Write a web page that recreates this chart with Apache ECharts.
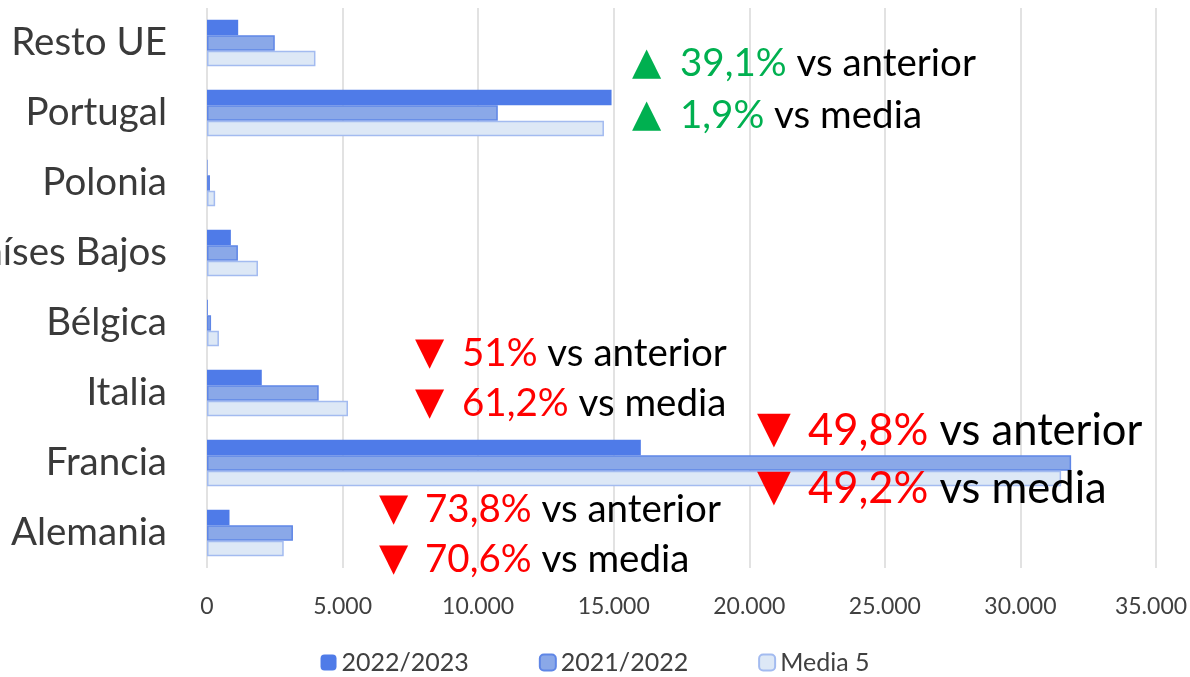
<!DOCTYPE html>
<html>
<head>
<meta charset="utf-8">
<script src="https://cdn.jsdelivr.net/npm/echarts@6/dist/echarts.min.js"></script>
<style>html,body{margin:0;padding:0;background:#fff}#c{width:1190px;height:677px}</style>
</head>
<body>
<div id="c"></div>
<script>
const categories = ['Alemania', 'Francia', 'Italia', 'Bélgica', 'Países Bajos', 'Polonia', 'Portugal', 'Resto UE'];
const s2022_2023 = [830, 16000, 2020, 30, 880, 20, 14920, 1150];
const s2021_2022 = [3170, 31870, 4120, 150, 1140, 110, 10725, 2500];
const sMedia5 = [2830, 31500, 5200, 440, 1880, 300, 14640, 4000];
const xTicks = { min: 0, max: 35000, interval: 5000 };

const FONT = 'Lato';
const chart = echarts.init(document.getElementById('c'));

function note(triX, textX, y, up, pct, rest, size, triSize, z) {
  const col = up ? '#00b050' : '#ff0000';
  return [
    { type: 'text', x: triX, y: y, z: z,
      style: { text: up ? '▲' : '▼', fontFamily: 'DejaVu Sans', fontSize: triSize, fill: col, verticalAlign: 'middle' } },
    { type: 'text', x: textX, y: y, z: z,
      style: {
        text: '{p|' + pct + '}{r| ' + rest + '}',
        verticalAlign: 'middle',
        rich: {
          p: { fontFamily: FONT, fontSize: size, fill: col },
          r: { fontFamily: FONT, fontSize: size, fill: '#000' }
        }
      } }
  ];
}

function fmt(v) {
  const s = v === 0 ? '0' : String(v).replace(/\B(?=(\d{3})+(?!\d))/g, '.');
  return v === xTicks.max ? '{m|' + s + '}' : s;
}

chart.setOption({
  animation: false,
  grid: { left: 207, right: 34, top: 8, bottom: 109, containLabel: false, outerBoundsMode: 'none' },
  legend: {
    top: 645, left: 'center',
    itemWidth: 16, itemHeight: 16, itemGap: 70,
    textStyle: { fontFamily: FONT, fontSize: 25, color: '#404040' }
  },
  xAxis: {
    type: 'value', min: xTicks.min, max: xTicks.max, interval: xTicks.interval,
    axisLine: { show: false }, axisTick: { show: false },
    splitLine: { lineStyle: { color: '#d9d9d9', width: 1.5 } },
    axisLabel: {
      fontFamily: FONT, fontSize: 23, color: '#404040', margin: 27,
      formatter: fmt,
      rich: { m: { fontFamily: FONT, fontSize: 23, color: '#404040', padding: [0, 10, 0, 0] } }
    }
  },
  yAxis: {
    type: 'category', data: categories,
    axisLine: { show: false }, axisTick: { show: false },
    axisLabel: { fontFamily: FONT, fontSize: 38.5, color: '#3a3a3a', margin: 40 }
  },
  series: [
    { name: '2022/2023', type: 'bar', data: s2022_2023, barWidth: 15.5, barGap: '0%',
      itemStyle: { color: '#4f7be8' } },
    { name: '2021/2022', type: 'bar', data: s2021_2022, barWidth: 15.5, barGap: '0%',
      itemStyle: { color: '#8aa8e8', borderColor: '#5f86e6', borderWidth: 1.5 } },
    { name: 'Media 5', type: 'bar', data: sMedia5, barWidth: 15.5, barGap: '0%',
      itemStyle: { color: '#dde8f6', borderColor: '#a3bbf0', borderWidth: 1.5 } }
  ],
  graphic: [].concat(
    note(632, 680, 64, true, '39,1%', 'vs anterior', 38.5, 38, 100),
    note(632, 680, 116, true, '1,9%', 'vs media', 38.5, 38, 100),
    note(415, 462, 354, false, '51%', 'vs anterior', 38.5, 38, 100),
    note(415, 462, 404, false, '61,2%', 'vs media', 38.5, 38, 100),
    note(757, 808, 431, false, '49,8%', 'vs anterior', 43.5, 44, 1),
    note(757, 808, 489, false, '49,2%', 'vs media', 43.5, 44, 100),
    note(379, 425, 510, false, '73,8%', 'vs anterior', 38.5, 38, 100),
    note(379, 425, 560, false, '70,6%', 'vs media', 38.5, 38, 100)
  )
});
</script>
</body>
</html>
